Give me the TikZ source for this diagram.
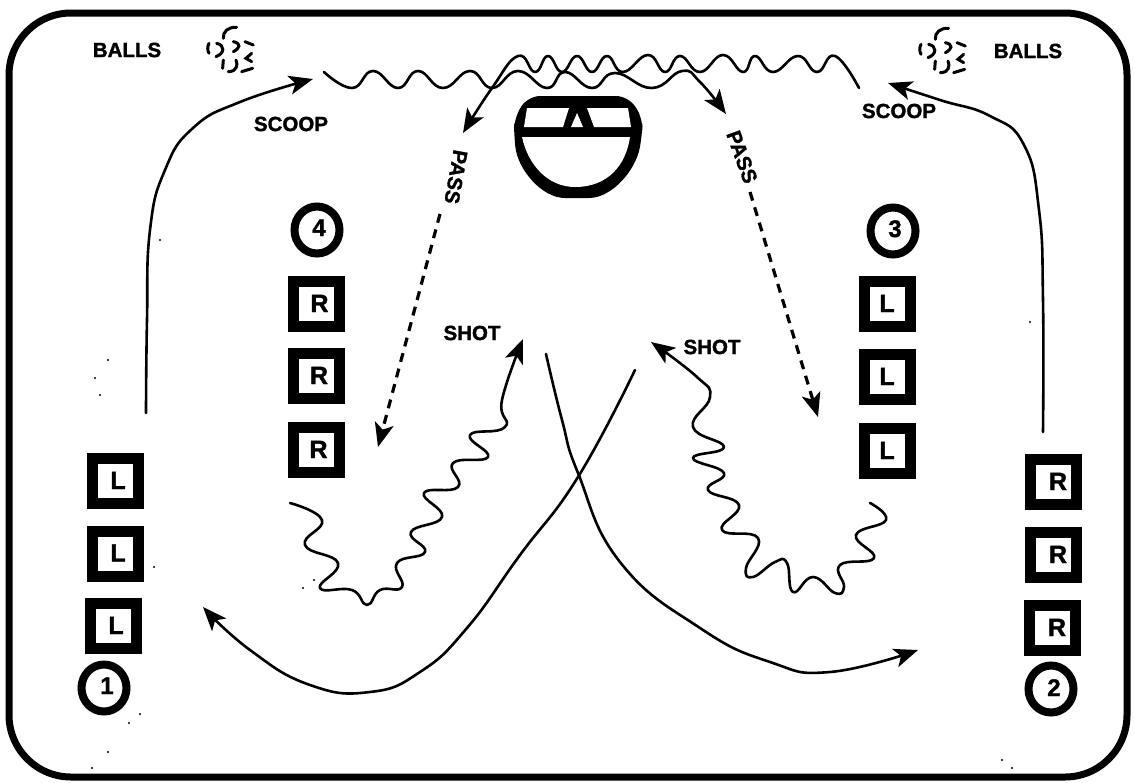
\documentclass[tikz,border=0pt]{standalone}
\usepackage{fontspec}
\setmainfont{Liberation Sans}[BoldFeatures={FakeBold=1.5}]
\usetikzlibrary{arrows.meta,shapes.geometric}
\newcommand{\markat}[3]{\smash{\makebox[0pt]{\kern#1\raisebox{#2}{#3}}}}
\tikzset{
 lbl/.style={font=\fontsize{20.5}{20.5}\selectfont\bfseries,inner sep=0pt},
 pbox/.style={draw=black,line width=11pt,fill=white,minimum width=46pt,minimum height=45pt,inner sep=0pt,font=\fontsize{25}{25}\selectfont\bfseries},
 pnum/.style={draw=black,line width=8pt,fill=white,ellipse,inner sep=0pt,minimum width=45pt,minimum height=47pt,font=\fontsize{24}{24}\selectfont\bfseries},
 wave/.style={line width=2.6pt,line cap=round,line join=round},
 arr/.style={wave,-{Stealth[length=24pt,width=19pt,inset=6pt]}},
 pass/.style={line width=3.2pt,dash pattern=on 9pt off 7pt,-{Stealth[length=24pt,width=19pt,inset=6pt]}},
 ball/.style={line width=3pt,line cap=round}
}
\newcommand{\ballcluster}{%
\draw[ball] (530,52) .. controls (505,50) and (488,65) .. (490,85);
\draw[ball] (520,95) .. controls (545,100) and (540,115) .. (520,125);
\draw[ball] (447,100) .. controls (442,110) and (442,120) .. (447,130);
\draw[ball] (470,100) .. controls (495,105) and (495,130) .. (468,140);
\draw[ball] (555,95) -- (580,105);
\draw[ball] (575,130) -- (558,145) -- (575,155);
\draw[ball] (490,150) -- (488,175);
\draw[ball] (505,185) .. controls (530,185) and (535,165) .. (528,150);
\draw[ball] (545,185) -- (578,175);
}
\begin{document}
\begin{tikzpicture}[x=1pt,y=-1pt]
\useasboundingbox (0,0) rectangle (1135,782);
\fill[white] (0,0) rectangle (1135,782);
\draw[line width=7pt,rounded corners=62pt] (9,13) rectangle (1127,777);

% labels
\node[lbl] (ballsL) at (127,50) {BALLS};
\node[lbl] (ballsR) at (1028,51) {BALLS};
\node[lbl] (scoopL) at (291,124) {SCOOP};
\node[lbl] (scoopR) at (899,111) {SCOOP};
\node[lbl] (shotL) at (472,333) {SHOT};
\node[lbl] (shotR) at (712,347) {SHOT};
\node[lbl,rotate=-100] (passL) at (456,177) {PASS};
\node[lbl,rotate=-70] (passR) at (742,157) {PASS};

% ball clusters
\begin{scope}[shift={(60,10)},x=0.3333pt,y=-0.3333pt]
\ballcluster
\end{scope}
\begin{scope}[shift={(772,11)},x=0.3333pt,y=-0.3333pt]
\ballcluster
\end{scope}

% goalie
\fill[black,rounded corners=12pt] (528,96) -- (628,96) -- (643,118) -- (642,135) .. controls (636,170) and (612,198) .. (577,198) .. controls (542,198) and (518,170) .. (514,135) -- (514,118) -- cycle;
\fill[white] (527,108) -- (569,108) -- (563,127) -- (524,127) -- cycle;
\fill[white] (587,108) -- (628,108) -- (631,127) -- (594,127) -- cycle;
\fill[white] (577,113) -- (583,127) -- (571,127) -- cycle;
\fill[white] (522,137) -- (630,137) .. controls (626,165) and (608,187) .. (575,187) .. controls (548,187) and (528,165) .. (522,137) -- cycle;

% players
\foreach \n/\x/\y/\t/\d in {a1/115/481/L/6pt,a2/115/553.5/L/6pt,a3/113/626/L/6pt,
  b1/316/304/R/7pt,b2/316/376/R/6pt,b3/316/450/R/5pt,
  c1/887/304/L/0pt,c2/887/377/L/0pt,c3/887/451/L/0pt,
  d1/1053/482/R/10pt,d2/1053/555/R/10pt,d3/1052/628/R/10pt}{
  \node[pbox] (\n) at (\x,\y) {\markat{\d}{-8pt}{\t}};
}
\node[pnum] (p1) at (104,688) {\markat{6pt}{-6pt}{1}};
\node[pnum] (p2) at (1051,689) {\markat{6pt}{-7pt}{2}};
\node[pnum] (p4) at (317,230) {\markat{4pt}{-6pt}{4}};
\node[pnum] (p3) at (893,231) {\markat{4pt}{-6pt}{3}};

% top waves
\draw[arr] plot[smooth,tension=0.8] coordinates {(324,72)(352,88)(373,71)(398,88)(418,71)(443,88)(470,71)(492,88)(518,71)(547,88)(565,72)(592,88)(615,73)(652,88)(682,71)(700,82)(726,114)};
\draw[arr] plot[smooth,tension=0.8] coordinates {(859,88)(835,56)(817,72)(798,56)(773,72)(755,56)(743,72)(723,55)(700,72)(680,56)(665,72)(648,55)(623,72)(607,56)(592,72)(577,56)(562,72)(548,56)(535,72)(518,56)(492,88)(463,133)};

% shot waves
\draw[arr] plot[smooth,tension=0.8] coordinates {(290,503)(322,520)(305,545)(338,563)(320,588)(352,590)(367,605)(380,590)(402,587)(397,563)(425,552)(411,532)(442,517)(424,493)(458,487)(453,463)(488,457)(470,435)(505,427)(502,400)(523,339)};
\draw[arr] plot[smooth,tension=0.8] coordinates {(870,503)(886,520)(856,535)(874,558)(840,565)(844,587)(835,593)(813,577)(793,592)(787,563)(775,562)(753,577)(746,568)(758,538)(722,530)(739,505)(708,490)(724,473)(693,458)(724,447)(693,427)(710,397)(697,377)(651,342)};

% pass
\coordinate (pl0) at (440,214); \coordinate (pl1) at (378,447);
\coordinate (pr0) at (750,192); \coordinate (pr1) at (818,417);
\draw[pass] (pl0) -- (pl1);
\draw[pass] (pr0) -- (pr1);

% long crossing runs
\draw[arr] plot[smooth,tension=0.8] coordinates {(635,370)(578,477)(520,555)(467,628)(420,672)(370,692)(310,685)(250,650)(203,607)};
\draw[arr] plot[smooth,tension=0.8] coordinates {(546,354)(562,420)(578,473)(620,562)(700,628)(770,662)(830,672)(918,650)};

% scoop arrows
\draw[arr] plot[smooth,tension=0.8] coordinates {(146,413)(147,320)(150,230)(165,170)(193,128)(240,102)(313,79)};
\draw[arr] plot[smooth,tension=0.8] coordinates {(1043,432)(1043,300)(1039,210)(1024,145)(990,116)(940,100)(888,83)};

% specks
\foreach \x/\y in {154/567,140/714,129/723,314/580,303/588,160/240,108/360,95/378,100/395,1030/322,1012/768,1002/760,92/768,108/752}{
  \fill (\x,\y) circle (1.2pt);
}
\end{tikzpicture}
\end{document}
